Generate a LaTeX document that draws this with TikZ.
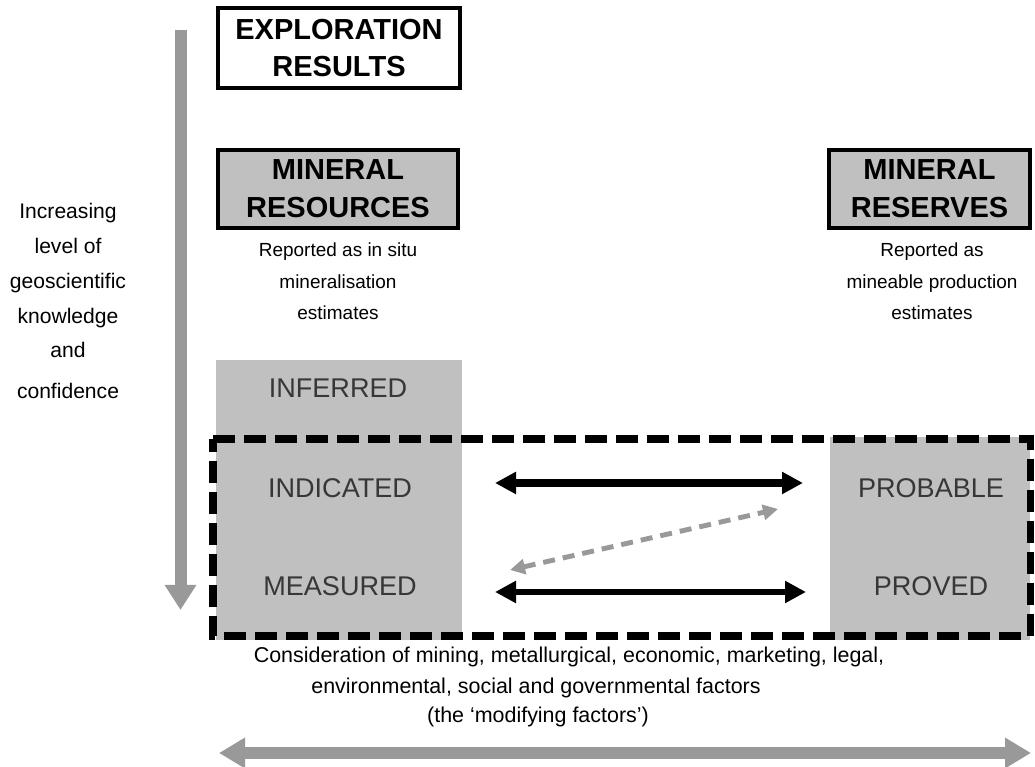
\documentclass[tikz,border=0pt]{standalone}
\usepackage{fontspec}
\setmainfont{Liberation Sans}
\usetikzlibrary{arrows.meta}
\definecolor{boxgray}{RGB}{192,192,192}
\definecolor{arrowgray}{RGB}{153,153,153}
\definecolor{labelgray}{RGB}{55,55,55}

\begin{document}
\begin{tikzpicture}[
  titlebox/.style={draw=black, line width=2.2pt, align=center, inner sep=0pt, font=\fontsize{16.5}{21.5}\selectfont\bfseries},
  catlabel/.style={font=\fontsize{15.4}{18}\selectfont, text=labelgray},
  note/.style={font=\fontsize{10.8}{17.9}\selectfont, align=center},
  linkarrow/.style={line width=4.5pt, {Triangle[width=0.42cm,length=0.42cm]}-{Triangle[width=0.42cm,length=0.42cm]}},
  greyarrow/.style={draw=arrowgray, line width=0.24cm}
  ]
  \useasboundingbox (0,0) rectangle (20.7,15.34);

  % Confidence axis (left)
  \draw[greyarrow, -{Triangle[width=0.6cm,length=0.5cm]}] (3.61,14.74) -- (3.61,3.14);
  \node[note, font=\fontsize{12}{19.9}\selectfont] (conf) at (1.36,9.32) {Increasing\\level of\\geoscientific\\knowledge\\and\\[0.12cm]confidence};

  % Gray blocks behind the categories
  \fill[boxgray] (4.32,2.54) rectangle (9.24,8.14);
  \fill[boxgray] (16.6,2.54) rectangle (20.6,6.6);

  % Modifying factors frame
  \draw[line width=4pt, dash pattern=on 0.44cm off 0.18cm] (4.26,6.56) -- (20.6,6.56) -- (20.6,2.62) -- (4.26,2.62) -- cycle;

  % Headers
  \node[titlebox, fill=white, minimum width=4.84cm, minimum height=1.6cm] (expl) at (6.78,14.38) {EXPLORATION\\RESULTS};
  \node[titlebox, fill=boxgray, minimum width=4.8cm, minimum height=1.56cm] (res) at (6.76,11.56) {MINERAL\\RESOURCES};
  \node[titlebox, fill=boxgray, minimum width=4.02cm, minimum height=1.56cm] (rsv) at (18.59,11.56) {MINERAL\\RESERVES};

  \node[note] (resnote) at (6.76,9.71) {Reported as in situ\\mineralisation\\estimates};
  \node[note] (rsvnote) at (18.64,9.71) {Reported as\\mineable production\\estimates};

  % Categories
  \node[catlabel] (inf) at (6.76,7.58) {INFERRED};
  \node[catlabel] (ind) at (6.8,5.58) {INDICATED};
  \node[catlabel] (meas) at (6.8,3.62) {MEASURED};
  \node[catlabel] (prob) at (18.62,5.58) {PROBABLE};
  \node[catlabel] (prov) at (18.62,3.62) {PROVED};

  % Conversion links
  \draw[linkarrow, shorten <=3.1cm, shorten >=2.56cm] ([yshift=0.1cm]ind.center) -- ([yshift=0.1cm]prob.center);
  \draw[linkarrow, line width=3.4pt, shorten <=3.1cm, shorten >=2.5cm] ([yshift=-0.12cm]meas.center) -- ([yshift=-0.12cm]prov.center);
  \coordinate (dl) at (10.2,3.94);
  \coordinate (dr) at (15.56,5.16);
  \draw[draw=arrowgray, line width=2.8pt, dash pattern=on 0.24cm off 0.16cm,
    {Triangle[width=0.3cm,length=0.3cm]}-{Triangle[width=0.3cm,length=0.3cm]}, arrowgray] (dl) -- (dr);

  % Modifying factors
  \node[note, font=\fontsize{12.2}{17}\selectfont] (mod1) at (11.38,2.2) {Consideration of mining, metallurgical, economic, marketing, legal,};
  \node[note, font=\fontsize{12.2}{17}\selectfont] (mod2) at (10.72,1.58) {environmental, social and governmental factors};
  \node[note, font=\fontsize{12.2}{17}\selectfont] (mod3) at (10.76,1.0) {(the `modifying factors')};
  \draw[greyarrow, {Triangle[width=0.58cm,length=0.52cm]}-{Triangle[width=0.58cm,length=0.52cm]}] (4.38,0.28) -- (20.62,0.28);
\end{tikzpicture}
\end{document}
